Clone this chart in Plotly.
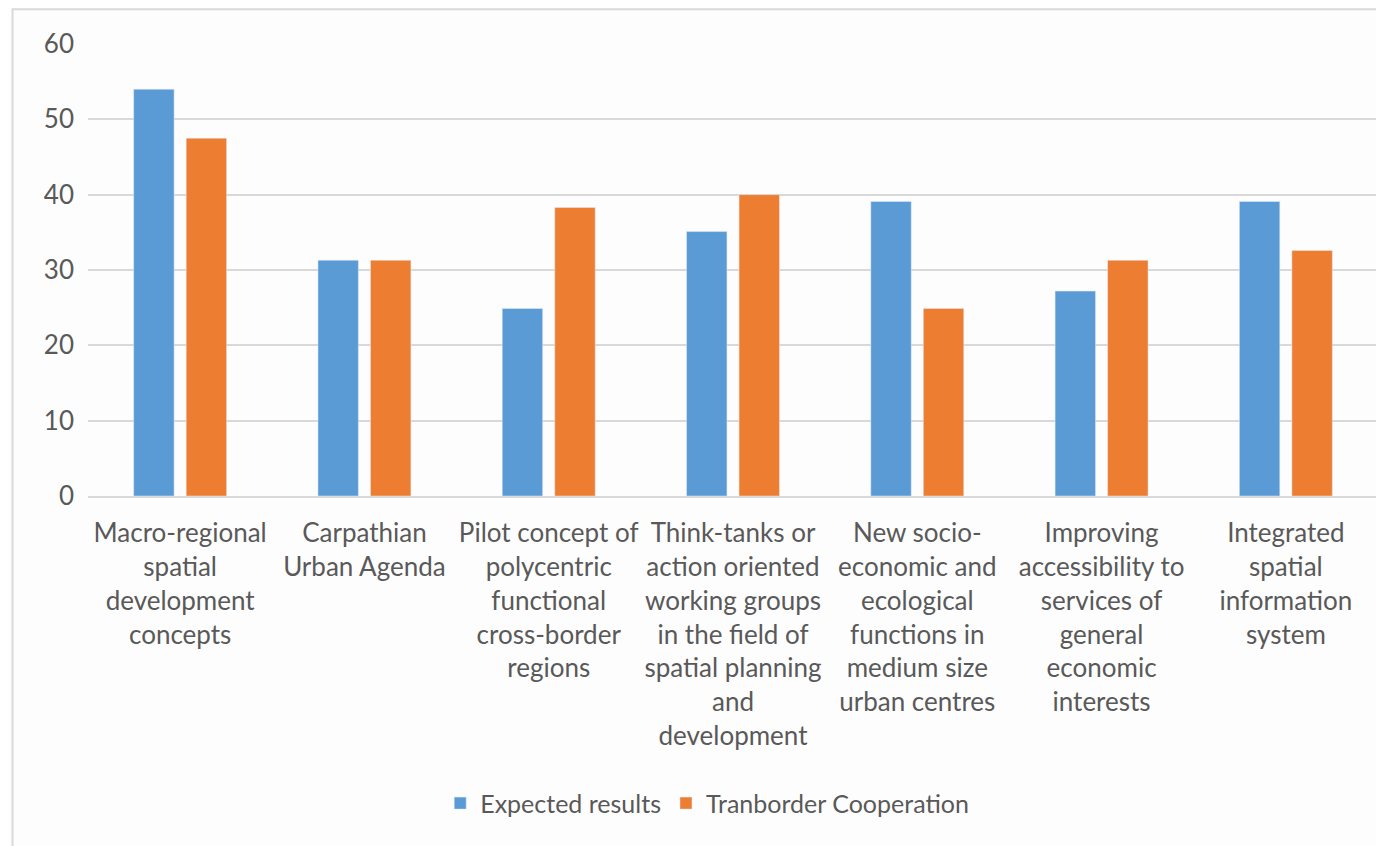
import plotly.graph_objects as go

categories = [
    "Macro-regional<br>spatial<br>development<br>concepts",
    "Carpathian<br>Urban Agenda",
    "Pilot concept of<br>polycentric<br>functional<br>cross-border<br>regions",
    "Think-tanks or<br>action oriented<br>working groups<br>in the field of<br>spatial planning<br>and<br>development",
    "New socio-<br>economic and<br>ecological<br>functions in<br>medium size<br>urban centres",
    "Improving<br>accessibility to<br>services of<br>general<br>economic<br>interests",
    "Integrated<br>spatial<br>information<br>system",
]
expected = [54.0, 31.3, 24.9, 35.1, 39.1, 27.2, 39.1]
tranborder = [47.5, 31.3, 38.3, 40.0, 24.9, 31.3, 32.6]

text_color = '#595959'

fig = go.Figure()
fig.add_trace(go.Bar(x=categories, y=expected, name='Expected results',
                     marker_color='#5b9bd5'))
fig.add_trace(go.Bar(x=categories, y=tranborder, name='Tranborder Cooperation',
                     marker_color='#ed7d31'))

fig.update_layout(
    width=1376, height=838,
    margin=dict(l=80, r=6, t=36, b=350),
    paper_bgcolor='#fdfdfd',
    plot_bgcolor='#fdfdfd',
    font=dict(family='Lato, Carlito, sans-serif', size=26, color=text_color),
    barmode='group',
    bargap=0.43,
    bargroupgap=0.23,
    showlegend=True,
    legend=dict(orientation='h', x=0.48, xanchor='center', y=-0.68,
                yanchor='middle', font=dict(size=25, color=text_color),
                itemwidth=30),
    # light frame round the chart, cut off at right and bottom
    shapes=[dict(type='rect', xref='paper', yref='paper',
                 x0=-0.0585, x1=1.1, y0=-1.5, y1=1.077,
                 line=dict(color='#d9d9d9', width=2), layer='below')],
)
fig.update_yaxes(range=[0, 60], dtick=10, showgrid=True, gridcolor='#d9d9d9',
                 gridwidth=2, zeroline=False, showline=False,
                 ticks='', ticklabelstandoff=13,
                 tickfont=dict(size=26, color=text_color))
fig.update_xaxes(showline=True, linecolor='#d9d9d9', linewidth=2,
                 ticks='', tickangle=0, ticklabelstandoff=13,
                 tickfont=dict(size=26, color=text_color))

fig.write_html("out.html")
